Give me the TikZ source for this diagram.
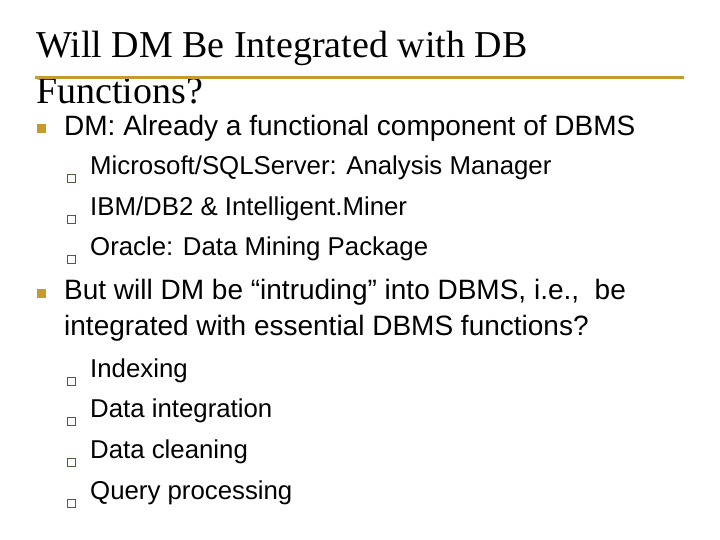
\documentclass[tikz,border=0pt]{standalone}
\usepackage{fontspec}
\setmainfont{Liberation Serif}
\newfontfamily\sansf{Liberation Sans}
\definecolor{gold}{HTML}{C49B2C}
\definecolor{subb}{HTML}{4A6040}
\begin{document}
\begin{tikzpicture}[x=1pt,y=-1pt,
  title/.style={anchor=base west,inner sep=0,font=\fontsize{38}{38}\selectfont},
  lone/.style={anchor=west,inner sep=0,font=\sansf\fontsize{28}{28}\selectfont},
  ltwo/.style={anchor=west,inner sep=0,font=\sansf\fontsize{25.8}{26}\selectfont},
  bone/.style={fill=gold,draw=none,minimum size=9pt,inner sep=0},
  btwo/.style={draw=subb,fill=white,line width=0.9pt,minimum size=8pt,inner sep=0}]
\useasboundingbox (0,0) rectangle (720,540);
\node[title] (t1) at (36,58) {Will DM Be Integrated with DB};
\node[title] (t2) at (36,104) {Functions?};
\coordinate (la) at (35,77.5); \coordinate (lb) at (684,77.5);
\draw[gold,line width=2.5pt] (la) -- (lb);
\foreach \y/\t [count=\i] in {128/{DM: Already a functional component of DBMS},292/{But will DM be “intruding” into DBMS, i.e.,\ \ be}}{
  \node[bone] (b\i) at (41.5,\y+1) {};
  \node[lone] (x\i) at (64,\y) {\t};
}
\node[lone] (x3) at (64,328) {integrated with essential DBMS functions?};
\foreach \y/\t [count=\i] in {168/{Microsoft/SQLServer: Analysis Manager},209/{IBM/DB2 \& Intelligent.Miner},249/{Oracle: Data Mining Package},371/Indexing,411/Data integration,452/Data cleaning,493/Query processing}{
  \fill[subb!40] (75,\y+14) rectangle +(-7,-7);
  \node[btwo] (s\i) at (71,\y+10) {};
  \node[ltwo] (y\i) at (90,\y) {\t};
}
\end{tikzpicture}
\end{document}
